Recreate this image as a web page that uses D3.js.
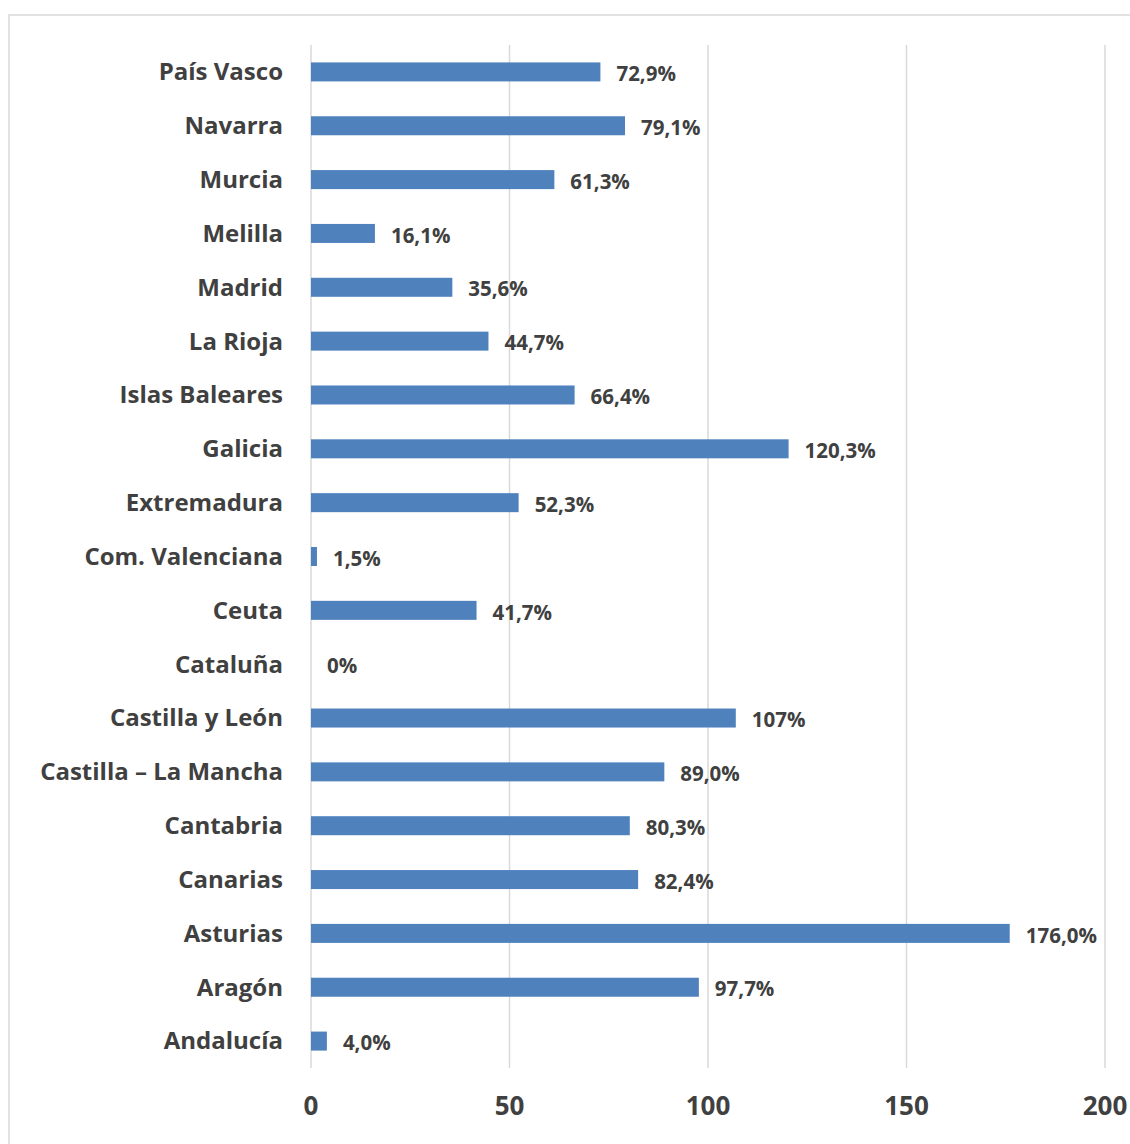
<!DOCTYPE html>
<html><head><meta charset="utf-8">
<script src="https://cdn.jsdelivr.net/npm/d3@7"></script>
<style>body{margin:0;background:#fff}svg{display:block}</style>
</head><body>
<svg id="c" width="1130" height="1144"></svg>
<script>
const categories = ["País Vasco","Navarra","Murcia","Melilla","Madrid","La Rioja","Islas Baleares","Galicia","Extremadura","Com. Valenciana","Ceuta","Cataluña","Castilla y León","Castilla – La Mancha","Cantabria","Canarias","Asturias","Aragón","Andalucía"];
const values = [72.9,79.1,61.3,16.1,35.6,44.7,66.4,120.3,52.3,1.5,41.7,0,107,89.0,80.3,82.4,176.0,97.7,4.0];
const valueLabels = ["72,9%","79,1%","61,3%","16,1%","35,6%","44,7%","66,4%","120,3%","52,3%","1,5%","41,7%","0%","107%","89,0%","80,3%","82,4%","176,0%","97,7%","4,0%"];
const tickValues = [0,50,100,150,200];

const svg = d3.select("#c");
const font = "'Open Sans', sans-serif";
const textColor = "#404040";

svg.append("rect").attr("x",9).attr("y",15).attr("width",1140).attr("height",1150)
  .attr("fill","#fff").attr("stroke","#d9d9d9").attr("stroke-width",1.5);

const x = d3.scaleLinear().domain([0,200]).range([311,1105]);
const y = d3.scaleBand().domain(categories).range([45,1068]).paddingInner(0.647).paddingOuter(0.3235);

svg.append("g").selectAll("line").data(tickValues).join("line")
  .attr("x1",d=>x(d)).attr("x2",d=>x(d)).attr("y1",45).attr("y2",1068)
  .attr("stroke","#d9d9d9").attr("stroke-width",1.5);

svg.append("g").selectAll("rect").data(categories).join("rect")
  .attr("x",x(0)).attr("y",d=>y(d)).attr("height",y.bandwidth())
  .attr("width",(d,i)=>x(values[i])-x(0)).attr("fill","#4f81bd");

svg.append("g").selectAll("text").data(categories).join("text")
  .attr("x",283).attr("y",d=>y(d)+y.bandwidth()/2).attr("dy","0.35em")
  .attr("text-anchor","end").attr("font-family",font).attr("font-weight","bold")
  .attr("font-size",24).attr("fill",textColor).text(d=>d);

svg.append("g").selectAll("text").data(categories).join("text")
  .attr("x",(d,i)=>x(values[i])+16).attr("y",d=>y(d)+y.bandwidth()/2+2).attr("dy","0.35em")
  .attr("font-family",font).attr("font-weight","bold")
  .attr("font-size",20.5).attr("fill",textColor).text((d,i)=>valueLabels[i]);

svg.append("g").selectAll("text").data(tickValues).join("text")
  .attr("x",d=>x(d)).attr("y",1106).attr("dy","0.35em").attr("text-anchor","middle")
  .attr("font-family",font).attr("font-weight","bold")
  .attr("font-size",26).attr("fill",textColor).text(d=>d);
</script>
</body></html>
